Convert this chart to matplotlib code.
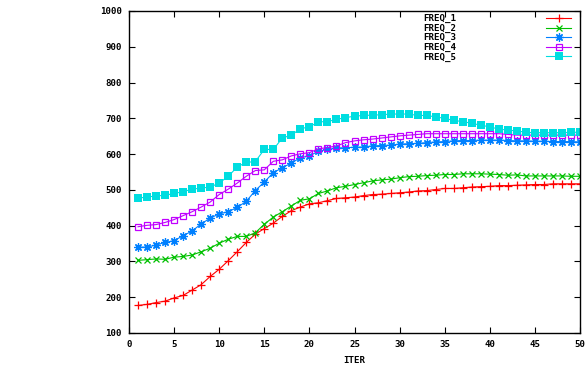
import matplotlib
matplotlib.use("Agg")
import matplotlib.pyplot as plt

# iterations on the x axis
iters = list(range(1, 51))

freq_1 = [177, 180, 185, 189, 198, 205, 220, 235, 258, 278,
          302, 327, 353, 376, 392, 407, 426, 442, 452, 461,
          464, 470, 476, 478, 480, 484, 487, 488, 490, 492,
          494, 497, 498, 501, 504, 504, 506, 508, 509, 510,
          512, 512, 513, 514, 515, 515, 517, 517, 517, 517]
freq_2 = [303, 305, 307, 306, 312, 314, 318, 327, 337, 351,
          362, 370, 370, 380, 404, 424, 439, 455, 471, 475,
          490, 497, 506, 510, 515, 520, 525, 528, 530, 534,
          537, 538, 540, 541, 543, 543, 545, 545, 545, 544,
          543, 541, 542, 539, 539, 539, 539, 539, 538, 538]
freq_3 = [340, 340, 346, 353, 358, 372, 385, 405, 421, 433,
          439, 451, 468, 498, 522, 548, 562, 575, 590, 595,
          608, 613, 617, 618, 619, 620, 623, 624, 625, 628,
          629, 630, 632, 634, 635, 637, 638, 638, 639, 639,
          639, 638, 637, 637, 636, 636, 635, 635, 635, 634]
freq_4 = [397, 401, 403, 409, 417, 428, 439, 452, 466, 487,
          502, 519, 538, 554, 556, 580, 584, 595, 601, 604,
          615, 618, 623, 632, 637, 640, 642, 645, 648, 651,
          653, 655, 657, 657, 657, 657, 657, 657, 657, 657,
          657, 655, 653, 653, 653, 653, 653, 653, 653, 653]
freq_5 = [477, 480, 483, 485, 490, 495, 502, 505, 508, 519,
          538, 564, 577, 579, 613, 613, 645, 653, 671, 676,
          690, 691, 697, 702, 706, 708, 709, 710, 712, 712,
          712, 708, 708, 704, 700, 694, 691, 686, 681, 676,
          670, 667, 665, 661, 660, 660, 660, 660, 661, 661]

# gnuplot style point types: plus, cross, star, box, filled box
star = (8, 2, 0)
series = [
    ("FREQ_1", freq_1, "#ff0000", "+", "none", 6, 0.9),
    ("FREQ_2", freq_2, "#00c000", "x", "none", 5, 0.9),
    ("FREQ_3", freq_3, "#0080ff", star, "none", 6, 0.9),
    ("FREQ_4", freq_4, "#c000ff", "s", "none", 5, 0.9),
    ("FREQ_5", freq_5, "#00dde0", "s", "#00dde0", 5.2, 0),
]

fnt = {"family": "DejaVu Sans Mono", "weight": "bold", "size": 6.6}

fig = plt.figure(figsize=(5.87, 3.71), dpi=100)
ax = fig.add_axes([129 / 587, 38 / 371, 451 / 587, 322 / 371])

for name, vals, col, mk, fc, ms, mew in series:
    ax.plot(iters, vals, color=col, lw=0.8, marker=mk, ms=ms,
            mfc=fc, mec=col, mew=mew, label=name)

ax.set_xlim(0, 50)
ax.set_ylim(100, 1000)
ax.set_xticks(range(0, 51, 5))
ax.set_yticks(range(100, 1001, 100))
ax.tick_params(direction="in", length=4, width=0.8, top=True, right=True,
               labelsize=6.6, pad=5)
for lab in ax.get_xticklabels() + ax.get_yticklabels():
    lab.set_fontfamily("DejaVu Sans Mono")
    lab.set_fontweight("bold")
for sp in ax.spines.values():
    sp.set_linewidth(1.0)

ax.set_xlabel("ITER", fontdict=fnt, labelpad=5)

leg = ax.legend(loc="upper right", bbox_to_anchor=(0.98, 0.99),
                frameon=False, markerfirst=False, prop={"family": "DejaVu Sans Mono",
                                                       "weight": "bold", "size": 6.6},
                handlelength=2.7, handletextpad=9.8, labelspacing=0.05,
                borderpad=0, borderaxespad=0)

fig.savefig("out.png", dpi=100)
